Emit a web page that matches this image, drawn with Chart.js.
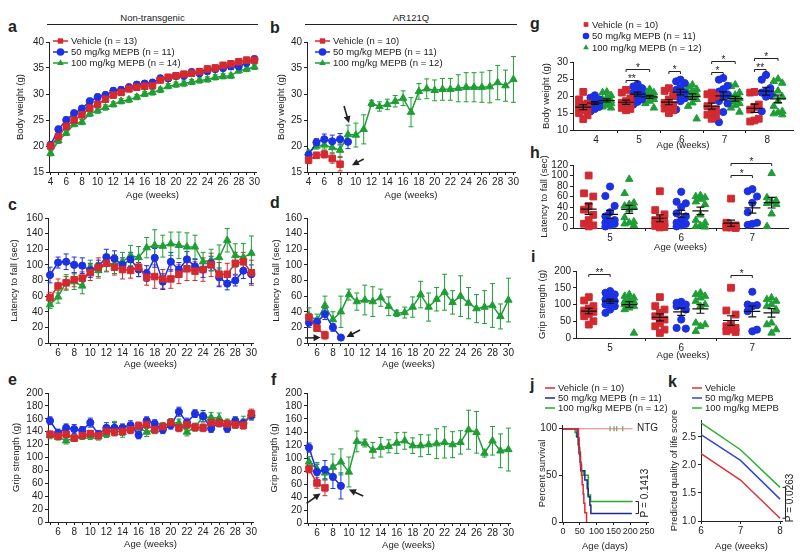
<!DOCTYPE html>
<html>
<head>
<meta charset="utf-8">
<script src="https://cdn.jsdelivr.net/npm/chart.js@4.4.1/dist/chart.umd.min.js"></script>
<style>
  body { margin: 0; background: #fff; width: 800px; height: 558px; position: relative; overflow: hidden;
         font-family: "Liberation Sans", Arial, sans-serif; color: #222; }
  canvas { position: absolute; }
  .tag { position: absolute; font-weight: bold; font-size: 16px; line-height: 16px; }
  .hdr { position: absolute; font-size: 9.5px; text-align: center; border-bottom: 1px solid #222; line-height: 12px; }
</style>
</head>
<body>
<div class="hdr" style="left:47px;top:12px;width:211px;">Non-transgenic</div>
<div class="hdr" style="left:305px;top:12px;width:212px;">AR121Q</div>
<div class="tag" style="left:8px;top:19px;">a</div>
<div class="tag" style="left:270px;top:20px;">b</div>
<div class="tag" style="left:8px;top:197px;">c</div>
<div class="tag" style="left:270px;top:195px;">d</div>
<div class="tag" style="left:8px;top:372px;">e</div>
<div class="tag" style="left:271px;top:372px;">f</div>
<div class="tag" style="left:530px;top:16px;">g</div>
<div class="tag" style="left:530px;top:145px;">h</div>
<div class="tag" style="left:531px;top:249px;">i</div>
<div class="tag" style="left:530px;top:377px;">j</div>
<div class="tag" style="left:668px;top:374px;">k</div>
<script>
// ---- data ----
const weeksA = [4,5,6,7,8,9,10,11,12,13,14,15,16,17,18,19,20,21,22,23,24,25,26,27,28,29,30];
const aVehicle = [20.0,21.8,23.8,25.0,26.0,27.3,28.0,29.0,29.8,30.3,31.0,31.3,31.5,31.6,32.7,33.2,33.5,33.8,34.0,34.3,34.8,35.0,35.5,35.8,36.2,36.5,36.5];
const aVehicleErr = [0.5,0.5,0.5,0.5,0.5,0.6,0.6,0.6,0.6,0.6,0.6,0.6,0.6,0.6,0.6,0.6,0.6,0.6,0.6,0.6,0.6,0.6,0.6,0.6,0.6,0.6,0.6];
const aMepb50 = [20.2,23.2,25.0,26.3,27.2,28.6,29.4,29.8,30.6,30.8,31.3,31.8,32.0,32.2,33.0,33.0,33.5,33.5,34.2,34.0,34.4,34.8,35.0,35.3,35.3,36.0,36.7];
const aMepb50Err = [0.6,0.6,0.6,0.6,0.6,0.6,0.6,0.6,0.6,0.6,0.6,0.6,0.6,0.6,0.6,0.6,0.6,0.6,0.6,0.6,0.6,0.6,0.6,0.6,0.6,0.6,0.6];
const aMepb100 = [18.6,21.0,22.5,24.2,24.6,26.2,26.8,27.4,28.0,28.6,28.9,29.4,30.0,30.3,30.8,31.5,31.8,32.0,32.3,32.6,32.8,33.2,33.4,33.5,34.5,34.8,35.2];
const aMepb100Err = [0.5,0.5,0.5,0.5,0.5,0.5,0.5,0.5,0.5,0.5,0.5,0.5,0.5,0.5,0.5,0.5,0.5,0.5,0.5,0.5,0.5,0.5,0.5,0.5,0.5,0.5,0.5];

const bWeeksVeh = [4,5,6,7,8];
const bVehicle = [17.3,18.2,18.4,17.6,16.5];
const bVehicleErr = [0.7,0.6,0.7,0.9,1.3];
const bWeeks50 = [4,5,6,7,8,9];
const bMepb50 = [18.3,20.7,21.3,20.9,21.3,20.8];
const bMepb50Err = [0.6,0.7,1.0,1.2,1.1,1.3];
const bMepb100 = [18.7,20.0,20.2,19.7,19.2,22.2,22.1,23.2,28.2,27.6,28.0,28.6,29.2,26.5,30.5,31.0,30.7,30.9,30.9,31.1,31.3,31.3,31.3,31.4,32.2,31.6,32.8];
const bMepb100Err = [0.5,0.6,0.8,1.0,1.2,1.8,2.3,2.8,0.6,0.9,1.0,1.1,1.4,2.8,1.5,1.9,2.0,2.1,2.1,2.6,2.8,2.8,2.9,3.1,3.3,3.0,4.4];

const weeksC = [5,6,7,8,9,10,11,12,13,14,15,16,17,18,19,20,21,22,23,24,25,26,27,28,29,30];
const cVehicle = [58,73,77,81,83,90,97,102,97,94,93,97,84,85,82,82,88,95,92,94,100,88,88,102,104,90];
const cVehicleErr = [7,9,8,9,8,10,12,10,10,12,10,12,10,15,12,12,12,15,12,15,15,15,14,14,12,16];
const cMepb50 = [87,103,104,100,99,93,98,110,108,100,107,94,89,109,78.5,104,94,107,98,94,102,84,76,80,92.5,88];
const cMepb50Err = [10,7,10,10,10,9,8,10,10,9,9,9,10,12,10,12,9,10,9,10,9,12,8,7,10,12];
const cMepb100 = [49,59,77.5,78.5,73,97,93,102,101,104,112,109.5,122,125,124,127,125,123,123,104,106,109.5,131.5,112,109.5,115];
const cMepb100Err = [5,8,10,10,10,9,10,11,12,12,13,14,13,20,14,15,17,18,15,12,14,16,15,15,18,22];

const dWeeksVeh = [5,6,7];
const dVehicle = [33,19,10];
const dVehicleErr = [5,4,5];
const dWeeks50 = [5,6,7,8,9];
const dMepb50 = [26,27,37,20,7];
const dMepb50Err = [6,5,7,5,2];
const dMepb100 = [35,29,48,30,40,62,53,55,53,58,47,38,39,46,62,46,56,65,52,60,51,44,46,48,34,55];
const dMepb100Err = [10,8,12,10,20,7,11,19,19,11,12,4,7,13,17,18,15,23,15,26,20,18,21,28,16,28];

const eVehicle = [136,133,136,130,134,137,134,140.5,139.5,140.5,143,149,151,143,148,154,146,151,147,146,154,153.5,152,151,150,168];
const eVehicleErr = [5,5,6,5,5,5,5,6,6,6,6,6,6,5,5,6,6,6,6,6,6,6,6,6,6,7];
const eMepb50 = [157,138,146,144,142,154,136,146,146,146,150,135,157,152.5,143,150,171,154,168,164,145,154,145,157,153.5,165];
const eMepb50Err = [6,6,6,7,6,7,6,8,8,6,7,6,6,6,6,6,7,7,6,9,6,6,6,6,6,7];
const eMepb100 = [134,132,126,130,133,133,132,136,148,138.5,147,146,139.5,143,148,154,153.5,139.5,147,163,162,161,153.5,154,155,165];
const eMepb100Err = [5,5,5,5,5,5,5,5,8,7,7,7,7,6,6,6,6,6,6,7,8,8,6,9,9,6];

const fVehicle = [83,61.5,54];
const fVehicleErr = [6,8,12];
const fMepb50 = [116,78.5,82,71,57];
const fMepb50Err = [7,12,14,18,20];
const fMepb100 = [94,83,77,86,94,78.5,125.5,123,112,116.5,118,123,126.5,119,119,120.5,122,124,120.5,124,143.5,139.5,107.5,126.5,111,113];
const fMepb100Err = [8,10,10,20,20,23,16,6,12,15,10,16,13,12,17,15,23,24,20,18,30,32,6,22,26,33];

const gWeeks = [4,5,6,7,8];
const gVehicle = [
  [21.2,19.0,17.8,17.5,17.0,16.5,15.8,15.0,14.3,13.2],
  [21.8,21.0,19.3,18.5,18.0,17.5,17.0,16.5,16.2,15.8],
  [22.3,21.5,20.0,19.0,18.0,17.3,16.8,16.3,15.8,15.0],
  [21.0,20.5,20.0,18.8,17.0,16.0,15.3,14.5,14.0,13.3],
  [21.2,21.0,17.5,16.8,16.0,13.3,12.8,12.5]
];
const gMepb50 = [
  [20.2,19.5,19.0,18.7,18.3,18.0,17.8,17.3,16.8,16.2,15.5],
  [23.5,22.8,22.3,21.7,21.0,20.5,20.0,19.5,19.0,18.3,17.5],
  [24.8,24.3,23.8,22.5,21.8,21.0,20.5,20.0,19.3,18.5,16.0],
  [25.3,24.8,23.0,22.0,21.3,20.5,19.8,18.5,17.8,15.3,12.3],
  [26.2,24.8,22.3,21.5,21.0,20.3,19.8,15.5]
];
const gMepb100 = [
  [21.2,21.0,20.2,19.5,19.0,18.6,18.3,18.0,17.8,17.3,16.8,16.5],
  [22.0,21.5,21.0,20.7,20.3,20.0,19.8,19.5,19.0,18.5,17.8,16.5],
  [23.3,22.8,22.0,21.5,21.0,20.5,20.0,19.5,19.0,18.0,17.0,13.3],
  [23.3,22.8,21.0,20.3,19.8,19.3,18.8,18.3,17.8,17.3,16.5,15.3],
  [25.0,24.3,23.8,21.5,20.3,19.8,18.5,17.0,15.5,15.2,14.8,14.5]
];
// significance: [week, from group, to group, height, stars]
const gSig = [[5,0,1,24.8,'**'],[5,0,2,27.9,'*'],[6,0,1,27.3,'*'],[7,0,1,27.1,'*'],[7,0,2,30.3,'*'],[8,0,1,28.0,'**'],[8,0,2,31.3,'*']];

const hWeeks = [5,6,7];
const hVehicle = [[100,66,60,42,35,25,15,8,5,3],[70,34,26,18,15,10,6,4,2,1],[56,10,5,4,3,2,1,1,0]];
const hMepb50 = [[79,61,42,30,22,15,12,10,8,5,3],[69,50,47,40,28,22,15,10,8,5,3],[74,70,60,48,30,10,8,6]];
const hMepb100 = [[93,66,48,45,42,40,35,20,12,10,8,5],[62,60,58,55,50,45,25,15,10,5,3,2],[104,58,52,50,47,45,27,3]];
const hSig = [[7,0,1,101,'*'],[7,0,2,123,'*']];

const iVehicle = [[122,112,95,88,82,78,72,65,50,40],[122,95,85,75,65,55,45,35,25,15],[150,82,70,40,35,30,25,20,18]];
const iMepb50 = [[140,135,130,120,115,110,105,100,95,85,75],[108,105,100,98,95,85,55,30,28],[138,100,98,95,80,25,20]];
const iMepb100 = [[130,125,120,115,110,108,105,100,95,90,85,15],[135,130,125,120,110,100,95,45,40,35,20],[120,115,110,100,95,85,45,40,25,15]];
const iSig = [[5,0,1,192,'**'],[7,0,1,189,'*']];

const jDaysVeh = [0,46,48,50,52,55,57,60,62,65,70];
const jVehicle = [100,90,80,70,60,50,40,30,20,10,0];
const jDays50 = [0,42,46,48,51,53,65,72,75,80,83,205];
const jMepb50 = [100,91,82,73,64,55,45,36,27,18,9,9];
const jDays100 = [0,36,40,45,48,52,55,60,75,82,207];
const jMepb100 = [100,96,92,83,75,62,55,50,29,22,22];
const jDaysNtg = [0,207];
const jNtg = [100,100];
const jCensorDays = [140,152,160,178];

const kWeeks = [6,7,8];
const kVehicle = [2.2,1.73,1.05];
const kMepb50 = [2.54,2.08,1.39];
const kMepb100 = [2.75,2.27,1.6];

const RED = '#d22a30', BLUE = '#1c30e4', GREEN = '#1f9e36';

// ---- helpers ----
Chart.defaults.font.family = '"Liberation Sans", Arial, sans-serif';
Chart.defaults.font.size = 10;
Chart.defaults.color = '#222';

function marker(ctx, style, x, y, r) {
  ctx.beginPath();
  if (style === 'rect') { const s = r * Math.SQRT1_2; ctx.rect(x - s, y - s, 2 * s, 2 * s); }
  else if (style === 'triangle') { ctx.moveTo(x, y - r); ctx.lineTo(x + r * 0.866, y + r * 0.5); ctx.lineTo(x - r * 0.866, y + r * 0.5); ctx.closePath(); }
  else ctx.arc(x, y, r, 0, Math.PI * 2);
  ctx.fill();
}

const errorBars = {
  id: 'errorBars',
  beforeDatasetsDraw(chart) {
    const ctx = chart.ctx, Y = chart.scales.y;
    chart.data.datasets.forEach((ds, i) => {
      if (!ds.err) return;
      const meta = chart.getDatasetMeta(i);
      ctx.save();
      ctx.strokeStyle = ds.borderColor; ctx.lineWidth = 1;
      meta.data.forEach((pt, j) => {
        const v = ds.data[j].y, e = ds.err[j];
        const y1 = Y.getPixelForValue(v + e), y2 = Y.getPixelForValue(v - e);
        ctx.beginPath();
        ctx.moveTo(pt.x, y1); ctx.lineTo(pt.x, y2);
        ctx.moveTo(pt.x - 2.5, y1); ctx.lineTo(pt.x + 2.5, y1);
        ctx.moveTo(pt.x - 2.5, y2); ctx.lineTo(pt.x + 2.5, y2);
        ctx.stroke();
      });
      ctx.restore();
    });
  }
};

const meanSem = {
  id: 'meanSem',
  afterDatasetsDraw(chart, args, o) {
    if (!o.w) return;
    const { ctx, scales: { x: X, y: Y } } = chart;
    ctx.save();
    ctx.strokeStyle = '#111'; ctx.lineWidth = 1.2;
    chart.data.datasets.forEach(ds => {
      if (!ds.groups) return;
      ds.groups.forEach((v, k) => {
        const n = v.length, m = v.reduce((a, b) => a + b, 0) / n;
        const sd = Math.sqrt(v.reduce((a, b) => a + (b - m) * (b - m), 0) / (n - 1));
        const se = sd / Math.sqrt(n);
        const cx = X.getPixelForValue(ds.weeks[k] + ds.off);
        const ym = Y.getPixelForValue(m), yt = Y.getPixelForValue(m + se), yb = Y.getPixelForValue(m - se);
        ctx.beginPath();
        ctx.moveTo(cx - o.w, ym); ctx.lineTo(cx + o.w, ym);
        ctx.moveTo(cx, yt); ctx.lineTo(cx, yb);
        ctx.moveTo(cx - o.cap, yt); ctx.lineTo(cx + o.cap, yt);
        ctx.moveTo(cx - o.cap, yb); ctx.lineTo(cx + o.cap, yb);
        ctx.stroke();
      });
    });
    ctx.restore();
  }
};

const legendBox = {
  id: 'legendBox',
  afterDraw(chart, args, o) {
    if (o.x === undefined) return;
    const ctx = chart.ctx;
    ctx.save();
    ctx.font = (o.size || 9.5) + 'px "Liberation Sans", Arial, sans-serif';
    ctx.textBaseline = 'middle'; ctx.textAlign = 'left';
    let row = 0;
    chart.data.datasets.forEach(ds => {
      if (!ds.label) return;
      const x = o.x - o.ox, y = o.y - o.oy + row * o.dy;
      row++;
      ctx.strokeStyle = ds.borderColor; ctx.fillStyle = ds.backgroundColor; ctx.lineWidth = o.lw || 1.5;
      if (o.lineW) { ctx.beginPath(); ctx.moveTo(x, y); ctx.lineTo(x + o.lineW, y); ctx.stroke(); }
      if (o.r) marker(ctx, ds.pointStyle, x + (o.lineW || 0) / 2, y, o.r);
      ctx.fillStyle = '#222';
      ctx.fillText(ds.label, x + (o.lineW || 0) + o.gap, y + 0.5);
    });
    ctx.restore();
  }
};

const notes = {
  id: 'notes',
  afterDraw(chart, args, o) {
    if (!o.items) return;
    const { ctx, scales: { x: X, y: Y } } = chart;
    ctx.save();
    ctx.strokeStyle = '#222'; ctx.fillStyle = '#222'; ctx.lineWidth = 1;
    ctx.font = '10px "Liberation Sans", Arial, sans-serif';
    o.items.forEach(n => {
      if (n.kind === 'hb') {
        const a = X.getPixelForValue(n.x1), b = X.getPixelForValue(n.x2);
        const y = Math.round(Y.getPixelForValue(n.y)) + 0.5;
        ctx.beginPath(); ctx.moveTo(a, y + 2.5); ctx.lineTo(a, y); ctx.lineTo(b, y); ctx.lineTo(b, y + 2.5); ctx.stroke();
        ctx.textAlign = 'center'; ctx.textBaseline = 'alphabetic';
        ctx.fillText(n.text, (a + b) / 2, y + 1);
      } else if (n.kind === 'vb') {
        const x = Math.round(X.getPixelForValue(n.x)) + 0.5, a = Y.getPixelForValue(n.y1), b = Y.getPixelForValue(n.y2);
        ctx.beginPath(); ctx.moveTo(x - 3, a); ctx.lineTo(x, a); ctx.lineTo(x, b); ctx.lineTo(x - 3, b); ctx.stroke();
        ctx.save();
        ctx.translate(X.getPixelForValue(n.tx), Y.getPixelForValue(n.ty));
        ctx.rotate(-Math.PI / 2);
        ctx.textAlign = 'center'; ctx.textBaseline = 'middle';
        ctx.fillText(n.text, 0, 0);
        ctx.restore();
      } else if (n.kind === 'text') {
        ctx.textAlign = 'left'; ctx.textBaseline = 'middle';
        ctx.fillText(n.text, X.getPixelForValue(n.x), Y.getPixelForValue(n.y));
      } else if (n.kind === 'arrow') {
        const x1 = X.getPixelForValue(n.x1), y1 = Y.getPixelForValue(n.y1);
        const x2 = X.getPixelForValue(n.x2), y2 = Y.getPixelForValue(n.y2);
        const ang = Math.atan2(y2 - y1, x2 - x1);
        ctx.lineWidth = 1.6;
        ctx.beginPath(); ctx.moveTo(x1, y1); ctx.lineTo(x2 - 4 * Math.cos(ang), y2 - 4 * Math.sin(ang)); ctx.stroke();
        ctx.beginPath();
        ctx.moveTo(x2, y2);
        ctx.lineTo(x2 - 7 * Math.cos(ang) + 3.5 * Math.sin(ang), y2 - 7 * Math.sin(ang) - 3.5 * Math.cos(ang));
        ctx.lineTo(x2 - 7 * Math.cos(ang) - 3.5 * Math.sin(ang), y2 - 7 * Math.sin(ang) + 3.5 * Math.cos(ang));
        ctx.closePath(); ctx.fill();
        ctx.lineWidth = 1;
      }
    });
    ctx.restore();
  }
};

function axis(s, dir, size) {
  return {
    type: 'linear', min: s.min, max: s.max,
    afterBuildTicks: sc => { sc.ticks = s.ticks.map(v => ({ value: v })); },
    afterFit: sc => { if (dir === 'x') sc.height = size; else sc.width = size; },
    ticks: {
      autoSkip: false, maxRotation: 0, padding: dir === 'x' ? 1 : 2, color: '#222',
      font: { size: s.tickSize || 10 },
      callback: v => s.labels.includes(v) ? (s.fmt ? s.fmt(v) : String(v)) : ''
    },
    grid: {
      drawOnChartArea: false, drawTicks: true, tickLength: 3, lineWidth: 1,
      tickColor: c => (s.bare && c.tick && s.labels.includes(c.tick.value)) ? 'rgba(0,0,0,0)' : '#222'
    },
    border: { display: true, color: '#222', width: 1 },
    title: { display: true, text: s.title, padding: 0, color: '#222', font: { size: 9.5 } }
  };
}

function panel(box, type, datasets, xs, ys, plug) {
  const left = box.l - box.padL, top = box.t - box.padT;
  const W = box.r - left + box.padR, H = box.b - top + box.padB;
  const cv = document.createElement('canvas');
  cv.width = W; cv.height = H;
  cv.style.left = left + 'px'; cv.style.top = top + 'px';
  cv.style.width = W + 'px'; cv.style.height = H + 'px';
  document.body.appendChild(cv);
  const p = { legend: { display: false }, tooltip: { enabled: false } };
  for (const k in (plug || {})) p[k] = Object.assign({ ox: left, oy: top }, plug[k]);
  new Chart(cv, {
    type,
    data: { datasets },
    options: {
      responsive: false, animation: false,
      layout: { padding: { left: 0, top: box.padT, right: box.padR, bottom: 0 } },
      scales: { x: axis(xs, 'x', box.padB), y: axis(ys, 'y', box.padL) },
      plugins: p
    },
    plugins: [errorBars, meanSem, legendBox, notes]
  });
}

function series(label, xs, ys, err, color, style, r) {
  return {
    label, data: xs.map((x, i) => ({ x, y: ys[i] })), err,
    borderColor: color, backgroundColor: color, pointBackgroundColor: color, pointBorderColor: color,
    pointStyle: style, pointRadius: r, pointBorderWidth: 1, borderWidth: 1.5, clip: false, tension: 0
  };
}

function swarm(label, weeks, groups, off, dodge, color, style, r) {
  const data = [];
  const spread = [0, -dodge, dodge];
  groups.forEach((vals, k) => vals.forEach((y, i) => data.push({ x: weeks[k] + off + spread[i % 3], y })));
  return {
    label, data, groups, weeks, off,
    borderColor: color, backgroundColor: color, pointBackgroundColor: color, pointBorderColor: color,
    pointStyle: style, pointRadius: r, pointBorderWidth: 1, showLine: false, clip: false
  };
}

function sigNotes(sig, offs) {
  return sig.map(s => ({ kind: 'hb', x1: s[0] + offs[s[1]], x2: s[0] + offs[s[2]], y: s[3], text: s[4] }));
}

// ---- axes ----
const evenA = weeksA.filter(w => w % 2 === 0);
const evenC = weeksC.filter(w => w % 2 === 0);
const xAB = { min: 3.8, max: 30.2, ticks: weeksA, labels: evenA, title: 'Age (weeks)' };
const xCF = { min: 4.75, max: 30.2, ticks: weeksC, labels: evenC, title: 'Age (weeks)' };
const yBW = { min: 15, max: 40, ticks: [15,20,25,30,35,40], labels: [15,20,25,30,35,40], title: 'Body weight (g)' };
const yLat = { min: 0, max: 160, ticks: [0,20,40,60,80,100,120,140,160], labels: [0,20,40,60,80,100,120,140,160], title: 'Latency to fall (sec)' };
const yGrip = { min: 0, max: 200, ticks: [0,20,40,60,80,100,120,140,160,180,200], labels: [0,20,40,60,80,100,120,140,160,180,200], title: 'Grip strength (g)' };

// a
panel({ l: 49, r: 256, t: 42, b: 172, padL: 34, padT: 30, padR: 12, padB: 29 }, 'line', [
  series('Vehicle (n = 13)', weeksA, aVehicle, aVehicleErr, RED, 'rect', 4.6),
  series('50 mg/kg MEPB (n = 11)', weeksA, aMepb50, aMepb50Err, BLUE, 'circle', 3.6),
  series('100 mg/kg MEPB (n = 14)', weeksA, aMepb100, aMepb100Err, GREEN, 'triangle', 4.3)
], xAB, yBW, { legendBox: { x: 53, y: 41, dy: 11, lineW: 15, r: 3.8, gap: 3 } });

// b
panel({ l: 307, r: 515, t: 42, b: 172, padL: 31, padT: 30, padR: 12, padB: 29 }, 'line', [
  series('Vehicle (n = 10)', bWeeksVeh, bVehicle, bVehicleErr, RED, 'rect', 4.6),
  series('50 mg/kg MEPB (n = 11)', bWeeks50, bMepb50, bMepb50Err, BLUE, 'circle', 3.6),
  series('100 mg/kg MEPB (n = 12)', weeksA, bMepb100, bMepb100Err, GREEN, 'triangle', 4.3)
], xAB, yBW, {
  legendBox: { x: 315, y: 41, dy: 11, lineW: 15, r: 3.8, gap: 3 },
  notes: { items: [
    { kind: 'arrow', x1: 8.5, y1: 27.7, x2: 9.13, y2: 24.4 },
    { kind: 'arrow', x1: 11.0, y1: 17.5, x2: 9.5, y2: 16.3 }
  ] }
});

// c
panel({ l: 48, r: 253, t: 218, b: 343, padL: 39, padT: 12, padR: 12, padB: 27 }, 'line', [
  series('Vehicle', weeksC, cVehicle, cVehicleErr, RED, 'rect', 4.6),
  series('50 mg/kg MEPB', weeksC, cMepb50, cMepb50Err, BLUE, 'circle', 3.6),
  series('100 mg/kg MEPB', weeksC, cMepb100, cMepb100Err, GREEN, 'triangle', 4.3)
], xCF, yLat);

// d
panel({ l: 307, r: 510, t: 218, b: 343, padL: 36, padT: 12, padR: 12, padB: 27 }, 'line', [
  series('Vehicle', dWeeksVeh, dVehicle, dVehicleErr, RED, 'rect', 4.6),
  series('50 mg/kg MEPB', dWeeks50, dMepb50, dMepb50Err, BLUE, 'circle', 3.6),
  series('100 mg/kg MEPB', weeksC, dMepb100, dMepb100Err, GREEN, 'triangle', 4.3)
], xCF, yLat, {
  notes: { items: [
    { kind: 'arrow', x1: 4.5, y1: 6.4, x2: 6.45, y2: 6.9 },
    { kind: 'arrow', x1: 11.4, y1: 16.6, x2: 9.7, y2: 7.6 }
  ] }
});

// e
panel({ l: 48, r: 253, t: 393, b: 522, padL: 37, padT: 10, padR: 12, padB: 28 }, 'line', [
  series('Vehicle', weeksC, eVehicle, eVehicleErr, RED, 'rect', 4.6),
  series('50 mg/kg MEPB', weeksC, eMepb50, eMepb50Err, BLUE, 'circle', 3.6),
  series('100 mg/kg MEPB', weeksC, eMepb100, eMepb100Err, GREEN, 'triangle', 4.3)
], xCF, yGrip);

// f
panel({ l: 307, r: 510, t: 393, b: 523, padL: 38, padT: 10, padR: 12, padB: 28 }, 'line', [
  series('Vehicle', dWeeksVeh, fVehicle, fVehicleErr, RED, 'rect', 4.6),
  series('50 mg/kg MEPB', dWeeks50, fMepb50, fMepb50Err, BLUE, 'circle', 3.6),
  series('100 mg/kg MEPB', weeksC, fMepb100, fMepb100Err, GREEN, 'triangle', 4.3)
], xCF, yGrip, {
  notes: { items: [
    { kind: 'arrow', x1: 4.7, y1: 30.3, x2: 6.45, y2: 45.5 },
    { kind: 'arrow', x1: 11.8, y1: 41.5, x2: 10.0, y2: 51.5 }
  ] }
});

// g
const gOff = [-0.3, -0.03, 0.25];
panel({ l: 573, r: 793, t: 62, b: 130, padL: 32, padT: 50, padR: 6, padB: 21 }, 'scatter', [
  swarm('Vehicle (n = 10)', gWeeks, gVehicle, gOff[0], 0.1, RED, 'rect', 4.8),
  swarm('50 mg/kg MEPB (n = 11)', gWeeks, gMepb50, gOff[1], 0.1, BLUE, 'circle', 3.6),
  swarm('100 mg/kg MEPB (n = 12)', gWeeks, gMepb100, gOff[2], 0.1, GREEN, 'triangle', 4.3)
], { min: 3.46, max: 8.6, ticks: [4,4.5,5,5.5,6,6.5,7,7.5,8], labels: gWeeks, bare: true, title: 'Age (weeks)' },
   { min: 10, max: 30, ticks: [10,15,20,25,30], labels: [10,15,20,25,30], title: 'Body weight (g)' }, {
  legendBox: { x: 586, y: 24.5, dy: 11.5, lineW: 0, r: 3.3, gap: 6 },
  meanSem: { w: 8, cap: 4 },
  notes: { items: sigNotes(gSig, gOff) }
});

// h
const hOff = [-0.3, 0, 0.27];
panel({ l: 573, r: 788, t: 165, b: 228, padL: 34, padT: 22, padR: 8, padB: 25 }, 'scatter', [
  swarm('', hWeeks, hVehicle, hOff[0], 0.065, RED, 'rect', 4.8),
  swarm('', hWeeks, hMepb50, hOff[1], 0.065, BLUE, 'circle', 3.6),
  swarm('', hWeeks, hMepb100, hOff[2], 0.065, GREEN, 'triangle', 4.3)
], { min: 4.48, max: 7.5, ticks: [5,5.5,6,6.5,7], labels: hWeeks, bare: true, title: 'Age (weeks)' },
   { min: 0, max: 120, ticks: [0,20,40,60,80,100,120], labels: [0,20,40,60,80,100,120], title: 'Latency to fall (sec)' }, {
  meanSem: { w: 8, cap: 4 },
  notes: { items: sigNotes(hSig, hOff) }
});

// i
panel({ l: 576, r: 790, t: 271, b: 338, padL: 39, padT: 12, padR: 8, padB: 23 }, 'scatter', [
  swarm('', hWeeks, iVehicle, hOff[0], 0.065, RED, 'rect', 4.8),
  swarm('', hWeeks, iMepb50, hOff[1], 0.065, BLUE, 'circle', 3.6),
  swarm('', hWeeks, iMepb100, hOff[2], 0.065, GREEN, 'triangle', 4.3)
], { min: 4.52, max: 7.53, ticks: [5,5.5,6,6.5,7], labels: hWeeks, bare: true, title: 'Age (weeks)' },
   { min: 0, max: 200, ticks: [0,50,100,150,200], labels: [0,50,100,150,200], title: 'Grip strength (g)' }, {
  meanSem: { w: 8, cap: 4 },
  notes: { items: sigNotes(iSig, hOff) }
});

// j
function km(label, xs, ys, color, width) {
  return { label, data: xs.map((x, i) => ({ x, y: ys[i] })), stepped: true, borderColor: color, backgroundColor: color,
           borderWidth: width, pointRadius: 0, clip: false };
}
const jCensor = {
  label: '', data: jCensorDays.map(x => ({ x, y: 100 })), showLine: false, pointStyle: 'line', rotation: 90,
  pointRadius: 2.5, borderColor: GREEN, backgroundColor: GREEN, pointBorderWidth: 1, clip: false
};
panel({ l: 562, r: 648, t: 425, b: 522, padL: 25, padT: 45, padR: 45, padB: 30 }, 'line', [
  km('Vehicle (n = 10)', jDaysVeh, jVehicle, '#e8232b', 1.5),
  km('50 mg/kg MEPB (n = 11)', jDays50, jMepb50, '#1f2a90', 1.5),
  km('100 mg/kg MEPB (n = 12)', jDays100, jMepb100, '#22aa2a', 1.5),
  km('', jDaysNtg, jNtg, '#f07878', 1.2),
  jCensor
], { min: -3, max: 253, ticks: [0,50,100,150,200,250], labels: [0,50,100,150,200,250], tickSize: 9, title: 'Age (days)' },
   { min: 0, max: 104, ticks: [0,50,100], labels: [0,50,100], title: 'Percent survival' }, {
  legendBox: { x: 545, y: 388, dy: 10, lineW: 10, lw: 1.5, gap: 3 },
  notes: { items: [
    { kind: 'text', x: 220, y: 100, text: 'NTG' },
    { kind: 'vb', x: 223, y1: 22, y2: 9, text: 'P = 0.1413', tx: 244, ty: 31 }
  ] }
});

// k
panel({ l: 701, r: 782, t: 420, b: 521, padL: 32, padT: 40, padR: 18, padB: 31 }, 'line', [
  series('Vehicle', kWeeks, kVehicle, null, '#e03036', 'circle', 0),
  series('50 mg/kg MEPB', kWeeks, kMepb50, null, '#3344e0', 'circle', 0),
  series('100 mg/kg MEPB', kWeeks, kMepb100, null, '#2eb034', 'circle', 0)
], { min: 6, max: 8.05, ticks: [6,7,8], labels: [6,7,8], title: 'Age (weeks)' },
   { min: 1.0, max: 2.8, ticks: [1.0,1.5,2.0,2.5], labels: [1.0,1.5,2.0,2.5], fmt: v => v.toFixed(1), title: 'Predicted quality of life score' }, {
  legendBox: { x: 692, y: 388, dy: 10, lineW: 10, lw: 1.5, gap: 3 },
  notes: { items: [
    { kind: 'vb', x: 8.12, y1: 1.6, y2: 1.05, text: 'P = 0.0263', tx: 8.25, ty: 1.41 }
  ] }
});
</script>
</body>
</html>
